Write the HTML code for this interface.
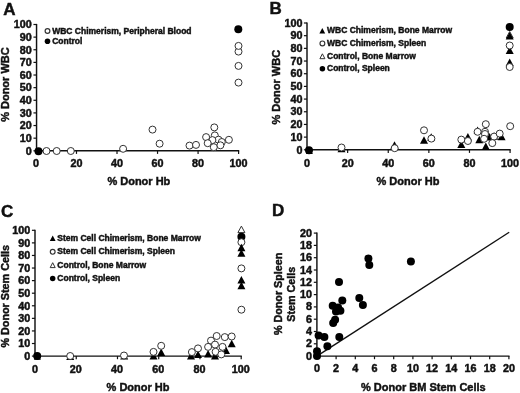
<!DOCTYPE html>
<html><head><meta charset="utf-8"><style>
html,body{margin:0;padding:0;background:#fff;}
body{width:520px;height:393px;overflow:hidden;}
svg{display:block;}
text{font-family:"Liberation Sans", sans-serif;font-weight:bold;fill:#111;stroke:#111;stroke-width:0.45px;}
svg{will-change:transform;filter:blur(0.3px);}
</style></head><body>
<svg width="520" height="393" viewBox="0 0 520 393">
<rect width="520" height="393" fill="#fff"/>
<text x="3.20" y="14.50" font-size="17" text-anchor="start">A</text>
<line x1="36.55" y1="23.90" x2="36.55" y2="151.50" stroke="#111" stroke-width="1.45"/>
<line x1="35.85" y1="150.80" x2="239.20" y2="150.80" stroke="#111" stroke-width="1.45"/>
<line x1="33.45" y1="150.80" x2="36.55" y2="150.80" stroke="#111" stroke-width="1.2"/>
<text font-size="10" text-anchor="end" transform="translate(31.75,154.60) scale(1.08,1)">0</text>
<line x1="33.45" y1="138.17" x2="36.55" y2="138.17" stroke="#111" stroke-width="1.2"/>
<text font-size="10" text-anchor="end" transform="translate(31.75,141.97) scale(1.08,1)">10</text>
<line x1="33.45" y1="125.54" x2="36.55" y2="125.54" stroke="#111" stroke-width="1.2"/>
<text font-size="10" text-anchor="end" transform="translate(31.75,129.34) scale(1.08,1)">20</text>
<line x1="33.45" y1="112.91" x2="36.55" y2="112.91" stroke="#111" stroke-width="1.2"/>
<text font-size="10" text-anchor="end" transform="translate(31.75,116.71) scale(1.08,1)">30</text>
<line x1="33.45" y1="100.28" x2="36.55" y2="100.28" stroke="#111" stroke-width="1.2"/>
<text font-size="10" text-anchor="end" transform="translate(31.75,104.08) scale(1.08,1)">40</text>
<line x1="33.45" y1="87.65" x2="36.55" y2="87.65" stroke="#111" stroke-width="1.2"/>
<text font-size="10" text-anchor="end" transform="translate(31.75,91.45) scale(1.08,1)">50</text>
<line x1="33.45" y1="75.02" x2="36.55" y2="75.02" stroke="#111" stroke-width="1.2"/>
<text font-size="10" text-anchor="end" transform="translate(31.75,78.82) scale(1.08,1)">60</text>
<line x1="33.45" y1="62.39" x2="36.55" y2="62.39" stroke="#111" stroke-width="1.2"/>
<text font-size="10" text-anchor="end" transform="translate(31.75,66.19) scale(1.08,1)">70</text>
<line x1="33.45" y1="49.76" x2="36.55" y2="49.76" stroke="#111" stroke-width="1.2"/>
<text font-size="10" text-anchor="end" transform="translate(31.75,53.56) scale(1.08,1)">80</text>
<line x1="33.45" y1="37.13" x2="36.55" y2="37.13" stroke="#111" stroke-width="1.2"/>
<text font-size="10" text-anchor="end" transform="translate(31.75,40.93) scale(1.08,1)">90</text>
<line x1="33.45" y1="24.50" x2="36.55" y2="24.50" stroke="#111" stroke-width="1.2"/>
<text font-size="10" text-anchor="end" transform="translate(31.75,28.30) scale(1.08,1)">100</text>
<text font-size="10" text-anchor="middle" transform="translate(35.95,167.00) scale(1.08,1)">0</text>
<line x1="76.48" y1="150.80" x2="76.48" y2="153.90" stroke="#111" stroke-width="1.2"/>
<text font-size="10" text-anchor="middle" transform="translate(76.48,167.00) scale(1.08,1)">20</text>
<line x1="117.01" y1="150.80" x2="117.01" y2="153.90" stroke="#111" stroke-width="1.2"/>
<text font-size="10" text-anchor="middle" transform="translate(117.01,167.00) scale(1.08,1)">40</text>
<line x1="157.54" y1="150.80" x2="157.54" y2="153.90" stroke="#111" stroke-width="1.2"/>
<text font-size="10" text-anchor="middle" transform="translate(157.54,167.00) scale(1.08,1)">60</text>
<line x1="198.07" y1="150.80" x2="198.07" y2="153.90" stroke="#111" stroke-width="1.2"/>
<text font-size="10" text-anchor="middle" transform="translate(198.07,167.00) scale(1.08,1)">80</text>
<line x1="238.60" y1="150.80" x2="238.60" y2="153.90" stroke="#111" stroke-width="1.2"/>
<text font-size="10" text-anchor="middle" transform="translate(238.60,167.00) scale(1.08,1)">100</text>
<text x="0" y="0" font-size="11" text-anchor="middle" transform="translate(9.30,84.60) rotate(-90)">% Donor WBC</text>
<text x="107.40" y="184.60" font-size="11" text-anchor="start">% Donor Hb</text>
<circle cx="47.50" cy="31.00" r="2.4" fill="#fff" stroke="#333" stroke-width="1.15"/>
<circle cx="47.50" cy="41.30" r="2.8" fill="#000"/>
<text x="52.20" y="33.60" font-size="8.5" text-anchor="start">WBC Chimerism, Peripheral Blood</text>
<text x="52.20" y="43.70" font-size="8.5" text-anchor="start">Control</text>
<circle cx="46.50" cy="151.00" r="3.5" fill="#fff" stroke="#333" stroke-width="1.0"/>
<circle cx="56.70" cy="151.00" r="3.5" fill="#fff" stroke="#333" stroke-width="1.0"/>
<circle cx="70.80" cy="151.00" r="3.5" fill="#fff" stroke="#333" stroke-width="1.0"/>
<circle cx="123.10" cy="148.80" r="3.5" fill="#fff" stroke="#333" stroke-width="1.0"/>
<circle cx="152.50" cy="129.60" r="3.5" fill="#fff" stroke="#333" stroke-width="1.0"/>
<circle cx="159.60" cy="143.70" r="3.5" fill="#fff" stroke="#333" stroke-width="1.0"/>
<circle cx="189.50" cy="145.60" r="3.5" fill="#fff" stroke="#333" stroke-width="1.0"/>
<circle cx="196.00" cy="144.90" r="3.5" fill="#fff" stroke="#333" stroke-width="1.0"/>
<circle cx="214.30" cy="127.40" r="3.5" fill="#fff" stroke="#333" stroke-width="1.0"/>
<circle cx="214.80" cy="135.40" r="3.5" fill="#fff" stroke="#333" stroke-width="1.0"/>
<circle cx="218.50" cy="139.70" r="3.5" fill="#fff" stroke="#333" stroke-width="1.0"/>
<circle cx="221.80" cy="142.00" r="3.5" fill="#fff" stroke="#333" stroke-width="1.0"/>
<circle cx="206.10" cy="137.10" r="3.5" fill="#fff" stroke="#333" stroke-width="1.0"/>
<circle cx="212.40" cy="140.10" r="3.5" fill="#fff" stroke="#333" stroke-width="1.0"/>
<circle cx="207.70" cy="143.20" r="3.5" fill="#fff" stroke="#333" stroke-width="1.0"/>
<circle cx="220.40" cy="145.30" r="3.5" fill="#fff" stroke="#333" stroke-width="1.0"/>
<circle cx="213.80" cy="147.20" r="3.5" fill="#fff" stroke="#333" stroke-width="1.0"/>
<circle cx="228.90" cy="139.80" r="3.5" fill="#fff" stroke="#333" stroke-width="1.0"/>
<circle cx="238.50" cy="82.60" r="3.5" fill="#fff" stroke="#333" stroke-width="1.0"/>
<circle cx="238.50" cy="65.90" r="3.5" fill="#fff" stroke="#333" stroke-width="1.0"/>
<circle cx="238.50" cy="51.60" r="3.5" fill="#fff" stroke="#333" stroke-width="1.0"/>
<circle cx="238.50" cy="45.90" r="3.5" fill="#fff" stroke="#333" stroke-width="1.0"/>
<circle cx="38.50" cy="151.20" r="4.0" fill="#000"/>
<circle cx="238.30" cy="29.20" r="4.0" fill="#000"/>
<text x="269.40" y="13.90" font-size="17" text-anchor="start">B</text>
<line x1="307.00" y1="22.40" x2="307.00" y2="150.50" stroke="#111" stroke-width="1.45"/>
<line x1="306.30" y1="149.80" x2="510.68" y2="149.80" stroke="#111" stroke-width="1.45"/>
<line x1="303.90" y1="149.80" x2="307.00" y2="149.80" stroke="#111" stroke-width="1.2"/>
<text font-size="10" text-anchor="end" transform="translate(302.60,153.50) scale(1.08,1)">0</text>
<line x1="303.90" y1="137.12" x2="307.00" y2="137.12" stroke="#111" stroke-width="1.2"/>
<text font-size="10" text-anchor="end" transform="translate(302.60,140.82) scale(1.08,1)">10</text>
<line x1="303.90" y1="124.44" x2="307.00" y2="124.44" stroke="#111" stroke-width="1.2"/>
<text font-size="10" text-anchor="end" transform="translate(302.60,128.14) scale(1.08,1)">20</text>
<line x1="303.90" y1="111.76" x2="307.00" y2="111.76" stroke="#111" stroke-width="1.2"/>
<text font-size="10" text-anchor="end" transform="translate(302.60,115.46) scale(1.08,1)">30</text>
<line x1="303.90" y1="99.08" x2="307.00" y2="99.08" stroke="#111" stroke-width="1.2"/>
<text font-size="10" text-anchor="end" transform="translate(302.60,102.78) scale(1.08,1)">40</text>
<line x1="303.90" y1="86.40" x2="307.00" y2="86.40" stroke="#111" stroke-width="1.2"/>
<text font-size="10" text-anchor="end" transform="translate(302.60,90.10) scale(1.08,1)">50</text>
<line x1="303.90" y1="73.72" x2="307.00" y2="73.72" stroke="#111" stroke-width="1.2"/>
<text font-size="10" text-anchor="end" transform="translate(302.60,77.42) scale(1.08,1)">60</text>
<line x1="303.90" y1="61.04" x2="307.00" y2="61.04" stroke="#111" stroke-width="1.2"/>
<text font-size="10" text-anchor="end" transform="translate(302.60,64.74) scale(1.08,1)">70</text>
<line x1="303.90" y1="48.36" x2="307.00" y2="48.36" stroke="#111" stroke-width="1.2"/>
<text font-size="10" text-anchor="end" transform="translate(302.60,52.06) scale(1.08,1)">80</text>
<line x1="303.90" y1="35.68" x2="307.00" y2="35.68" stroke="#111" stroke-width="1.2"/>
<text font-size="10" text-anchor="end" transform="translate(302.60,39.38) scale(1.08,1)">90</text>
<line x1="303.90" y1="23.00" x2="307.00" y2="23.00" stroke="#111" stroke-width="1.2"/>
<text font-size="10" text-anchor="end" transform="translate(302.60,26.70) scale(1.08,1)">100</text>
<text font-size="10" text-anchor="middle" transform="translate(307.03,166.70) scale(1.08,1)">0</text>
<line x1="347.64" y1="149.80" x2="347.64" y2="152.90" stroke="#111" stroke-width="1.2"/>
<text font-size="10" text-anchor="middle" transform="translate(347.64,166.70) scale(1.08,1)">20</text>
<line x1="388.25" y1="149.80" x2="388.25" y2="152.90" stroke="#111" stroke-width="1.2"/>
<text font-size="10" text-anchor="middle" transform="translate(388.25,166.70) scale(1.08,1)">40</text>
<line x1="428.86" y1="149.80" x2="428.86" y2="152.90" stroke="#111" stroke-width="1.2"/>
<text font-size="10" text-anchor="middle" transform="translate(428.86,166.70) scale(1.08,1)">60</text>
<line x1="469.47" y1="149.80" x2="469.47" y2="152.90" stroke="#111" stroke-width="1.2"/>
<text font-size="10" text-anchor="middle" transform="translate(469.47,166.70) scale(1.08,1)">80</text>
<line x1="510.08" y1="149.80" x2="510.08" y2="152.90" stroke="#111" stroke-width="1.2"/>
<text font-size="10" text-anchor="middle" transform="translate(510.08,166.70) scale(1.08,1)">100</text>
<text x="0" y="0" font-size="11" text-anchor="middle" transform="translate(279.60,87.20) rotate(-90)">% Donor WBC</text>
<text x="376.50" y="184.90" font-size="11" text-anchor="start">% Donor Hb</text>
<polygon points="322.30,28.00 319.40,33.50 325.20,33.50" fill="#000"/>
<circle cx="322.40" cy="43.40" r="2.4" fill="#fff" stroke="#333" stroke-width="1.15"/>
<polygon points="322.40,53.80 319.90,58.70 324.90,58.70" fill="#fff" stroke="#333" stroke-width="1.0"/>
<circle cx="322.40" cy="68.70" r="2.75" fill="#000"/>
<text x="327.00" y="33.30" font-size="8.5" text-anchor="start">WBC Chimerism, Bone Marrow</text>
<text x="327.00" y="45.90" font-size="8.5" text-anchor="start">WBC Chimerism, Spleen</text>
<text x="327.00" y="58.60" font-size="8.5" text-anchor="start">Control, Bone Marrow</text>
<text x="327.00" y="70.90" font-size="8.5" text-anchor="start">Control, Spleen</text>
<polygon points="341.50,144.80 337.50,152.30 345.50,152.30" fill="#000"/>
<polygon points="394.50,141.20 390.50,148.70 398.50,148.70" fill="#000"/>
<polygon points="424.00,136.30 420.00,143.80 428.00,143.80" fill="#000"/>
<polygon points="431.20,133.30 427.20,140.80 435.20,140.80" fill="#000"/>
<polygon points="461.30,140.60 457.30,148.10 465.30,148.10" fill="#000"/>
<polygon points="467.90,133.00 463.90,140.50 471.90,140.50" fill="#000"/>
<polygon points="477.60,126.60 473.60,134.10 481.60,134.10" fill="#000"/>
<polygon points="479.30,135.80 475.30,143.30 483.30,143.30" fill="#000"/>
<polygon points="485.80,142.50 481.80,150.00 489.80,150.00" fill="#000"/>
<polygon points="494.10,132.30 490.10,139.80 498.10,139.80" fill="#000"/>
<polygon points="501.60,132.80 497.60,140.30 505.60,140.30" fill="#000"/>
<polygon points="489.50,133.00 485.50,140.50 493.50,140.50" fill="#000"/>
<circle cx="341.50" cy="147.50" r="3.5" fill="#fff" stroke="#333" stroke-width="1.0"/>
<circle cx="394.70" cy="148.20" r="3.5" fill="#fff" stroke="#333" stroke-width="1.0"/>
<circle cx="424.00" cy="130.30" r="3.5" fill="#fff" stroke="#333" stroke-width="1.0"/>
<circle cx="431.40" cy="138.60" r="3.5" fill="#fff" stroke="#333" stroke-width="1.0"/>
<circle cx="461.30" cy="139.60" r="3.5" fill="#fff" stroke="#333" stroke-width="1.0"/>
<circle cx="467.90" cy="141.00" r="3.5" fill="#fff" stroke="#333" stroke-width="1.0"/>
<circle cx="485.80" cy="124.20" r="3.5" fill="#fff" stroke="#333" stroke-width="1.0"/>
<circle cx="477.60" cy="131.80" r="3.5" fill="#fff" stroke="#333" stroke-width="1.0"/>
<circle cx="485.00" cy="131.80" r="3.5" fill="#fff" stroke="#333" stroke-width="1.0"/>
<circle cx="485.00" cy="134.00" r="3.5" fill="#fff" stroke="#333" stroke-width="1.0"/>
<circle cx="484.10" cy="138.80" r="3.5" fill="#fff" stroke="#333" stroke-width="1.0"/>
<circle cx="494.10" cy="136.60" r="3.5" fill="#fff" stroke="#333" stroke-width="1.0"/>
<circle cx="499.70" cy="133.60" r="3.5" fill="#fff" stroke="#333" stroke-width="1.0"/>
<circle cx="492.30" cy="143.10" r="3.5" fill="#fff" stroke="#333" stroke-width="1.0"/>
<circle cx="510.20" cy="126.20" r="3.5" fill="#fff" stroke="#333" stroke-width="1.0"/>
<polygon points="309.40,147.05 305.90,154.05 312.90,154.05" fill="#000"/>
<circle cx="309.00" cy="150.20" r="4.0" fill="#000"/>
<polygon points="509.70,31.50 506.20,38.00 513.20,38.00" fill="#fff" stroke="#333" stroke-width="1.0"/>
<polygon points="509.70,32.00 505.70,39.50 513.70,39.50" fill="#000"/>
<polygon points="509.70,46.50 505.70,54.00 513.70,54.00" fill="#000"/>
<circle cx="509.70" cy="45.50" r="3.5" fill="#fff" stroke="#333" stroke-width="1.0"/>
<polygon points="509.70,58.50 505.70,66.00 513.70,66.00" fill="#000"/>
<circle cx="509.70" cy="67.00" r="3.5" fill="#fff" stroke="#333" stroke-width="1.0"/>
<circle cx="509.70" cy="27.10" r="4.0" fill="#000"/>
<text x="1.00" y="216.60" font-size="17" text-anchor="start">C</text>
<line x1="35.00" y1="229.70" x2="35.00" y2="356.80" stroke="#111" stroke-width="1.45"/>
<line x1="34.30" y1="356.10" x2="241.80" y2="356.10" stroke="#111" stroke-width="1.45"/>
<line x1="31.90" y1="356.10" x2="35.00" y2="356.10" stroke="#111" stroke-width="1.2"/>
<text font-size="10" text-anchor="end" transform="translate(30.20,359.90) scale(1.08,1)">0</text>
<line x1="31.90" y1="343.52" x2="35.00" y2="343.52" stroke="#111" stroke-width="1.2"/>
<text font-size="10" text-anchor="end" transform="translate(30.20,347.32) scale(1.08,1)">10</text>
<line x1="31.90" y1="330.94" x2="35.00" y2="330.94" stroke="#111" stroke-width="1.2"/>
<text font-size="10" text-anchor="end" transform="translate(30.20,334.74) scale(1.08,1)">20</text>
<line x1="31.90" y1="318.36" x2="35.00" y2="318.36" stroke="#111" stroke-width="1.2"/>
<text font-size="10" text-anchor="end" transform="translate(30.20,322.16) scale(1.08,1)">30</text>
<line x1="31.90" y1="305.78" x2="35.00" y2="305.78" stroke="#111" stroke-width="1.2"/>
<text font-size="10" text-anchor="end" transform="translate(30.20,309.58) scale(1.08,1)">40</text>
<line x1="31.90" y1="293.20" x2="35.00" y2="293.20" stroke="#111" stroke-width="1.2"/>
<text font-size="10" text-anchor="end" transform="translate(30.20,297.00) scale(1.08,1)">50</text>
<line x1="31.90" y1="280.62" x2="35.00" y2="280.62" stroke="#111" stroke-width="1.2"/>
<text font-size="10" text-anchor="end" transform="translate(30.20,284.42) scale(1.08,1)">60</text>
<line x1="31.90" y1="268.04" x2="35.00" y2="268.04" stroke="#111" stroke-width="1.2"/>
<text font-size="10" text-anchor="end" transform="translate(30.20,271.84) scale(1.08,1)">70</text>
<line x1="31.90" y1="255.46" x2="35.00" y2="255.46" stroke="#111" stroke-width="1.2"/>
<text font-size="10" text-anchor="end" transform="translate(30.20,259.26) scale(1.08,1)">80</text>
<line x1="31.90" y1="242.88" x2="35.00" y2="242.88" stroke="#111" stroke-width="1.2"/>
<text font-size="10" text-anchor="end" transform="translate(30.20,246.68) scale(1.08,1)">90</text>
<line x1="31.90" y1="230.30" x2="35.00" y2="230.30" stroke="#111" stroke-width="1.2"/>
<text font-size="10" text-anchor="end" transform="translate(30.20,234.10) scale(1.08,1)">100</text>
<text font-size="10" text-anchor="middle" transform="translate(35.00,372.90) scale(1.08,1)">0</text>
<line x1="76.24" y1="356.10" x2="76.24" y2="359.20" stroke="#111" stroke-width="1.2"/>
<text font-size="10" text-anchor="middle" transform="translate(75.74,372.90) scale(1.08,1)">20</text>
<line x1="117.48" y1="356.10" x2="117.48" y2="359.20" stroke="#111" stroke-width="1.2"/>
<text font-size="10" text-anchor="middle" transform="translate(116.98,372.90) scale(1.08,1)">40</text>
<line x1="158.72" y1="356.10" x2="158.72" y2="359.20" stroke="#111" stroke-width="1.2"/>
<text font-size="10" text-anchor="middle" transform="translate(158.22,372.90) scale(1.08,1)">60</text>
<line x1="199.96" y1="356.10" x2="199.96" y2="359.20" stroke="#111" stroke-width="1.2"/>
<text font-size="10" text-anchor="middle" transform="translate(199.46,372.90) scale(1.08,1)">80</text>
<line x1="241.20" y1="356.10" x2="241.20" y2="359.20" stroke="#111" stroke-width="1.2"/>
<text font-size="10" text-anchor="middle" transform="translate(240.70,372.90) scale(1.08,1)">100</text>
<text x="0" y="0" font-size="10.8" text-anchor="middle" transform="translate(9.30,296.30) rotate(-90)">% Donor Stem Cells</text>
<text x="106.60" y="390.90" font-size="11" text-anchor="start">% Donor Hb</text>
<polygon points="52.70,235.50 49.80,241.00 55.60,241.00" fill="#000"/>
<circle cx="52.70" cy="251.80" r="2.4" fill="#fff" stroke="#333" stroke-width="1.15"/>
<polygon points="52.70,262.70 50.20,267.60 55.20,267.60" fill="#fff" stroke="#333" stroke-width="1.0"/>
<circle cx="52.70" cy="278.50" r="2.75" fill="#000"/>
<text x="57.30" y="240.80" font-size="8.5" text-anchor="start">Stem Cell Chimerism, Bone Marrow</text>
<text x="57.30" y="254.00" font-size="8.5" text-anchor="start">Stem Cell Chimerism, Spleen</text>
<text x="57.30" y="267.80" font-size="8.5" text-anchor="start">Control, Bone Marrow</text>
<text x="57.30" y="280.80" font-size="8.5" text-anchor="start">Control, Spleen</text>
<polygon points="124.20,352.00 120.20,359.50 128.20,359.50" fill="#000"/>
<polygon points="153.50,352.00 149.50,359.50 157.50,359.50" fill="#000"/>
<polygon points="161.20,348.50 157.20,356.00 165.20,356.00" fill="#000"/>
<polygon points="70.20,352.50 66.20,360.00 74.20,360.00" fill="#000"/>
<polygon points="198.00,350.50 194.00,358.00 202.00,358.00" fill="#000"/>
<polygon points="208.10,350.00 204.10,357.50 212.10,357.50" fill="#000"/>
<polygon points="215.00,352.00 211.00,359.50 219.00,359.50" fill="#000"/>
<polygon points="226.00,346.50 222.00,354.00 230.00,354.00" fill="#000"/>
<polygon points="231.70,339.80 227.70,347.30 235.70,347.30" fill="#000"/>
<polygon points="191.00,352.00 187.00,359.50 195.00,359.50" fill="#000"/>
<circle cx="70.20" cy="356.00" r="3.5" fill="#fff" stroke="#333" stroke-width="1.0"/>
<circle cx="124.00" cy="355.50" r="3.5" fill="#fff" stroke="#333" stroke-width="1.0"/>
<circle cx="153.50" cy="351.90" r="3.5" fill="#fff" stroke="#333" stroke-width="1.0"/>
<circle cx="161.20" cy="345.80" r="3.5" fill="#fff" stroke="#333" stroke-width="1.0"/>
<circle cx="191.90" cy="352.10" r="3.5" fill="#fff" stroke="#333" stroke-width="1.0"/>
<circle cx="198.00" cy="348.40" r="3.5" fill="#fff" stroke="#333" stroke-width="1.0"/>
<circle cx="211.00" cy="340.60" r="3.5" fill="#fff" stroke="#333" stroke-width="1.0"/>
<circle cx="216.70" cy="336.00" r="3.5" fill="#fff" stroke="#333" stroke-width="1.0"/>
<circle cx="224.80" cy="337.10" r="3.5" fill="#fff" stroke="#333" stroke-width="1.0"/>
<circle cx="231.70" cy="336.50" r="3.5" fill="#fff" stroke="#333" stroke-width="1.0"/>
<circle cx="208.10" cy="346.90" r="3.5" fill="#fff" stroke="#333" stroke-width="1.0"/>
<circle cx="215.00" cy="344.60" r="3.5" fill="#fff" stroke="#333" stroke-width="1.0"/>
<circle cx="222.50" cy="346.90" r="3.5" fill="#fff" stroke="#333" stroke-width="1.0"/>
<circle cx="215.60" cy="351.80" r="3.5" fill="#fff" stroke="#333" stroke-width="1.0"/>
<circle cx="221.30" cy="354.40" r="3.5" fill="#fff" stroke="#333" stroke-width="1.0"/>
<polygon points="37.40,352.75 33.90,359.75 40.90,359.75" fill="#000"/>
<circle cx="37.20" cy="356.10" r="4.0" fill="#000"/>
<polygon points="241.40,226.10 237.90,232.60 244.90,232.60" fill="#fff" stroke="#333" stroke-width="1.0"/>
<circle cx="241.40" cy="236.80" r="4.0" fill="#000"/>
<circle cx="241.40" cy="242.20" r="3.5" fill="#fff" stroke="#333" stroke-width="1.0"/>
<polygon points="241.40,243.80 237.40,251.30 245.40,251.30" fill="#000"/>
<polygon points="241.40,249.20 237.40,256.70 245.40,256.70" fill="#000"/>
<circle cx="241.40" cy="268.40" r="3.5" fill="#fff" stroke="#333" stroke-width="1.0"/>
<polygon points="241.40,276.00 237.40,283.50 245.40,283.50" fill="#000"/>
<polygon points="241.40,281.80 237.40,289.30 245.40,289.30" fill="#000"/>
<circle cx="241.40" cy="309.70" r="3.5" fill="#fff" stroke="#333" stroke-width="1.0"/>
<text x="272.10" y="216.20" font-size="17" text-anchor="start">D</text>
<line x1="316.90" y1="232.50" x2="316.90" y2="356.80" stroke="#111" stroke-width="1.45"/>
<line x1="316.20" y1="356.10" x2="509.50" y2="356.10" stroke="#111" stroke-width="1.45"/>
<line x1="313.80" y1="356.10" x2="316.90" y2="356.10" stroke="#111" stroke-width="1.2"/>
<text font-size="10" text-anchor="end" transform="translate(312.10,359.60) scale(1.08,1)">0</text>
<line x1="313.80" y1="343.80" x2="316.90" y2="343.80" stroke="#111" stroke-width="1.2"/>
<text font-size="10" text-anchor="end" transform="translate(312.10,347.30) scale(1.08,1)">2</text>
<line x1="313.80" y1="331.50" x2="316.90" y2="331.50" stroke="#111" stroke-width="1.2"/>
<text font-size="10" text-anchor="end" transform="translate(312.10,335.00) scale(1.08,1)">4</text>
<line x1="313.80" y1="319.20" x2="316.90" y2="319.20" stroke="#111" stroke-width="1.2"/>
<text font-size="10" text-anchor="end" transform="translate(312.10,322.70) scale(1.08,1)">6</text>
<line x1="313.80" y1="306.90" x2="316.90" y2="306.90" stroke="#111" stroke-width="1.2"/>
<text font-size="10" text-anchor="end" transform="translate(312.10,310.40) scale(1.08,1)">8</text>
<line x1="313.80" y1="294.60" x2="316.90" y2="294.60" stroke="#111" stroke-width="1.2"/>
<text font-size="10" text-anchor="end" transform="translate(312.10,298.10) scale(1.08,1)">10</text>
<line x1="313.80" y1="282.30" x2="316.90" y2="282.30" stroke="#111" stroke-width="1.2"/>
<text font-size="10" text-anchor="end" transform="translate(312.10,285.80) scale(1.08,1)">12</text>
<line x1="313.80" y1="270.00" x2="316.90" y2="270.00" stroke="#111" stroke-width="1.2"/>
<text font-size="10" text-anchor="end" transform="translate(312.10,273.50) scale(1.08,1)">14</text>
<line x1="313.80" y1="257.70" x2="316.90" y2="257.70" stroke="#111" stroke-width="1.2"/>
<text font-size="10" text-anchor="end" transform="translate(312.10,261.20) scale(1.08,1)">16</text>
<line x1="313.80" y1="245.40" x2="316.90" y2="245.40" stroke="#111" stroke-width="1.2"/>
<text font-size="10" text-anchor="end" transform="translate(312.10,248.90) scale(1.08,1)">18</text>
<line x1="313.80" y1="233.10" x2="316.90" y2="233.10" stroke="#111" stroke-width="1.2"/>
<text font-size="10" text-anchor="end" transform="translate(312.10,236.60) scale(1.08,1)">20</text>
<text font-size="10" text-anchor="middle" transform="translate(316.90,372.30) scale(1.08,1)">0</text>
<line x1="336.10" y1="356.10" x2="336.10" y2="359.20" stroke="#111" stroke-width="1.2"/>
<text font-size="10" text-anchor="middle" transform="translate(336.10,372.30) scale(1.08,1)">2</text>
<line x1="355.30" y1="356.10" x2="355.30" y2="359.20" stroke="#111" stroke-width="1.2"/>
<text font-size="10" text-anchor="middle" transform="translate(355.30,372.30) scale(1.08,1)">4</text>
<line x1="374.50" y1="356.10" x2="374.50" y2="359.20" stroke="#111" stroke-width="1.2"/>
<text font-size="10" text-anchor="middle" transform="translate(374.50,372.30) scale(1.08,1)">6</text>
<line x1="393.70" y1="356.10" x2="393.70" y2="359.20" stroke="#111" stroke-width="1.2"/>
<text font-size="10" text-anchor="middle" transform="translate(393.70,372.30) scale(1.08,1)">8</text>
<line x1="412.90" y1="356.10" x2="412.90" y2="359.20" stroke="#111" stroke-width="1.2"/>
<text font-size="10" text-anchor="middle" transform="translate(412.90,372.30) scale(1.08,1)">10</text>
<line x1="432.10" y1="356.10" x2="432.10" y2="359.20" stroke="#111" stroke-width="1.2"/>
<text font-size="10" text-anchor="middle" transform="translate(432.10,372.30) scale(1.08,1)">12</text>
<line x1="451.30" y1="356.10" x2="451.30" y2="359.20" stroke="#111" stroke-width="1.2"/>
<text font-size="10" text-anchor="middle" transform="translate(451.30,372.30) scale(1.08,1)">14</text>
<line x1="470.50" y1="356.10" x2="470.50" y2="359.20" stroke="#111" stroke-width="1.2"/>
<text font-size="10" text-anchor="middle" transform="translate(470.50,372.30) scale(1.08,1)">16</text>
<line x1="489.70" y1="356.10" x2="489.70" y2="359.20" stroke="#111" stroke-width="1.2"/>
<text font-size="10" text-anchor="middle" transform="translate(489.70,372.30) scale(1.08,1)">18</text>
<line x1="508.90" y1="356.10" x2="508.90" y2="359.20" stroke="#111" stroke-width="1.2"/>
<text font-size="10" text-anchor="middle" transform="translate(508.90,372.30) scale(1.08,1)">20</text>
<line x1="316.90" y1="356.10" x2="509.20" y2="232.30" stroke="#111" stroke-width="1.35"/>
<text font-size="10.75" text-anchor="middle" transform="translate(282.3,293.9) rotate(-90)">% Donor Spleen</text>
<text font-size="10.75" text-anchor="middle" transform="translate(294.8,294.3) rotate(-90)">Stem Cells</text>
<text x="361.00" y="390.80" font-size="11" text-anchor="start">% Donor BM Stem Cells</text>
<circle cx="368.40" cy="258.50" r="4.0" fill="#000"/>
<circle cx="369.30" cy="265.10" r="4.0" fill="#000"/>
<circle cx="339.00" cy="282.10" r="4.0" fill="#000"/>
<circle cx="342.30" cy="300.50" r="4.0" fill="#000"/>
<circle cx="359.30" cy="298.10" r="4.0" fill="#000"/>
<circle cx="362.90" cy="304.90" r="4.0" fill="#000"/>
<circle cx="332.70" cy="305.70" r="4.0" fill="#000"/>
<circle cx="338.10" cy="307.40" r="4.0" fill="#000"/>
<circle cx="340.40" cy="310.70" r="4.0" fill="#000"/>
<circle cx="336.00" cy="311.50" r="4.0" fill="#000"/>
<circle cx="335.10" cy="319.80" r="4.0" fill="#000"/>
<circle cx="333.20" cy="323.10" r="4.0" fill="#000"/>
<circle cx="318.60" cy="335.50" r="4.0" fill="#000"/>
<circle cx="324.40" cy="337.10" r="4.0" fill="#000"/>
<circle cx="339.30" cy="337.10" r="4.0" fill="#000"/>
<circle cx="327.40" cy="346.20" r="4.0" fill="#000"/>
<circle cx="317.00" cy="351.20" r="4.0" fill="#000"/>
<circle cx="317.00" cy="356.00" r="4.0" fill="#000"/>
<circle cx="410.90" cy="261.40" r="4.0" fill="#000"/>
</svg>
</body></html>
